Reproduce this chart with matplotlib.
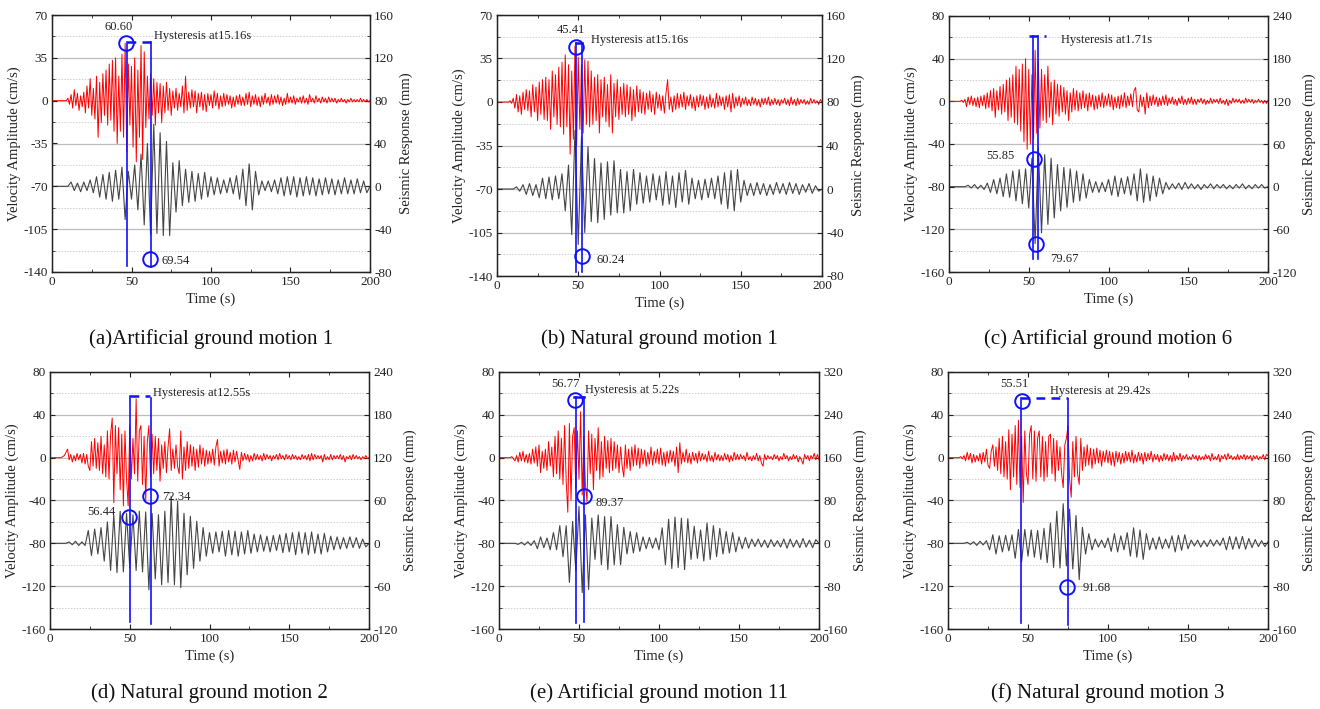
import numpy as np
import matplotlib as mpl
mpl.use('Agg')
import matplotlib.pyplot as plt
from matplotlib.ticker import MultipleLocator, AutoMinorLocator

plt.rcParams['font.family'] = ['Liberation Serif', 'DejaVu Serif']
plt.rcParams['axes.unicode_minus'] = False

# ground velocity sampled every 1 s (cm/s), structural response every 2 s (mm)
dt_vel = 1.0
dt_resp = 2.0

vel_a = [0, 0, 0, 0, 0, 0, 0, 0, 0, 0,
         2, -3, 5, -6, 9, -4, 6, -8, 4, -5,
         7, -10, 12, -6, 18, -12, 10, -15, 20, -30,
         15, -18, 22, -12, 25, -20, 30, -16, 33, -25,
         35, -35, 20, -25, 38, -30, 47, -42, 30, -20,
         28, -38, 35, -50, 25, -30, 45, -48, 40, -22,
         20, -15, 22, -12, 18, -20, 15, -10, 14, -18,
         12, -10, 15, -8, 10, -12, 8, -6, 10, -8,
         6, -5, 12, -10, 20, -8, 7, -6, 9, -5,
         8, -10, 6, -5, 7, -8, 5, -9, 6, -4,
         5, -6, 8, -4, 6, -7, 4, -5, 6, -4,
         5, -3, 4, -6, 3, -5, 4, -3, 5, -4,
         3, -4, 6, -3, 7, -5, 4, -3, 5, -4,
         3, -5, 4, -3, 6, -2, 3, -4, 5, -3,
         4, -2, 5, -3, 3, -4, 2, -3, 6, -2,
         3, -2, 4, -3, 2, -1, 3, -2, 4, -2,
         2, -3, 5, -1, 2, -2, 4, -1, 2, -2,
         3, -1, 2, -2, 3, -1, 2, -1, 2, -2,
         1, -1, 2, -1, 1, -2, 1, -1, 2, -1,
         1, -1, 1, -1, 2, -1, 1, -1, 1, -1,
         0]
resp_a = [0, 0, 0, 0, 0, 0, 4, -4, 3, -5,
          4, -4, 6, -6, 9, -10, 11, -12, 13, -14,
          15, -12, 18, -31, 14, -12, 20, -22, 30, -36,
          40, -45, 58, -44, 50, -46, 42, -46, 22, -24,
          24, -18, 16, -15, 14, -14, 12, -12, 13, -10,
          9, -8, 8, -7, 6, -6, 8, -7, 10, -12,
          16, -18, 21, -22, 14, -8, 5, -4, 5, -5,
          6, -7, 8, -9, 9, -8, 9, -10, 8, -9,
          9, -8, 8, -9, 7, -8, 8, -7, 7, -8,
          6, -7, 8, -7, 6, -7, 7, -6, 5, -6,
          0]

vel_b = [0, 0, 0, 0, 0, 0, 0, 0, 1, -1,
         3, -5, 6, -8, 5, -10, 8, -6, 10, -7,
         9, -12, 14, -8, 12, -15, 16, -10, 18, -14,
         20, -15, 18, -22, 25, -12, 22, -18, 28, -20,
         32, -26, 38, -20, 30, -42, 25, -30, 45, -35,
         36, -22, 30, -25, 34, -18, 33, -20, 25, -18,
         20, -15, 22, -25, 18, -12, 20, -16, 14, -20,
         22, -25, 15, -12, 18, -14, 12, -10, 15, -12,
         14, -10, 12, -15, 10, -12, 13, -8, 10, -9,
         8, -10, 7, -6, 9, -8, 6, -10, 8, -5,
         6, -7, 5, -9, 7, 18, -6, 4, -8, 5,
         -6, 7, -5, 6, -4, 8, -6, 5, -3, 6,
         -5, 4, -7, 5, -4, 6, -3, 5, -6, 4,
         -5, 6, -4, 3, -5, 7, -4, 5, -3, 4,
         -6, 5, -4, 6, -8, 7, -5, 4, -3, 5,
         -4, 3, -2, 4, -3, 2, -3, 4, -2, 3,
         -3, 2, -4, 3, -2, 3, -2, 4, -3, 2,
         -2, 3, -2, 2, -3, 2, -1, 3, -2, 2,
         -3, 4, -2, 2, -3, 3, -2, 2, -1, 2,
         -2, 1, -2, 3, -1, 2, -1, 1, -2, 2,
         0]
resp_b = [0, 0, 0, 0, 0, 0, 2, -2, 4, -5,
          5, -6, 4, -8, 10, -9, 11, -10, 12, -9,
          14, -20, 22, -42, 54, -51, 48, -40, 39, -30,
          28, -31, 24, -28, 25, -24, 26, -22, 18, -22,
          16, -20, 18, -14, 15, -13, 12, -12, 14, -10,
          12, -15, 16, -14, 12, -17, 15, -12, 17, -14,
          10, -9, 8, -10, 9, -8, 10, -9, 12, -14,
          15, -18, 17, -20, 18, -12, 8, -6, 5, -6,
          6, -5, 5, -6, 4, -5, 6, -4, 5, -5,
          6, -4, 5, -5, 4, -3, 5, -4, 3, -2,
          0]

vel_c = [0, 0, 0, 0, 0, 0, 0, 0, 1, -1,
         2, -5, 4, -3, 5, -4, 3, -5, 4, -6,
         5, -4, 6, -7, 8, -6, 10, -9, 12, -15,
         10, -8, 14, -12, 16, -10, 20, -18, 22, -15,
         25, -20, 33, -22, 30, -28, 35, -38, 40, -45,
         30, -40, 25, -35, 48, -30, 38, -25, 30, -18,
         25, -20, 33, -15, 18, -22, 20, -12, 16, -14,
         15, -10, 13, -12, 10, -18, 8, -10, 12, -8,
         10, -9, 8, -7, 10, -6, 7, -9, 8, -5,
         6, -8, 5, -7, 6, -5, 8, -6, 5, -4,
         7, -5, 6, -8, 4, -6, 5, -7, 6, -5,
         8, -6, 5, -4, 7, -5, 10, 13, -8, -10,
         6, -5, 4, -12, 8, -6, 5, -4, 6, -3,
         4, -5, 3, -4, 5, -3, 6, -4, 3, -2,
         4, -3, 2, -4, 3, -2, 5, -3, 2, -3,
         3, -2, 4, -3, 2, -3, 2, -1, 3, -2,
         2, -3, 1, -2, 3, -2, 2, -1, 2, -2,
         3, -2, 1, -3, 2, -4, 1, -2, 3, -1,
         2, -1, 2, -2, 1, -2, 3, -1, 2, -1,
         2, -2, 1, -1, 2, -1, 1, -2, 1, -2,
         1]
resp_c = [0, 0, 0, 0, 0, 0, 2, -2, 3, -3,
          2, -4, 5, -8, 10, -10, 12, -14, 18, -15,
          22, -20, 24, -24, 25, -30, 40, -80, 55, -65,
          45, -53, 40, -44, 31, -34, 27, -29, 25, -22,
          22, -20, 18, -16, 10, -8, 7, -8, 6, -7,
          10, -12, 15, -14, 12, -10, 14, -12, 18, -20,
          25, -22, 18, -20, 15, -14, 12, -10, 6, -4,
          4, -3, 5, -4, 6, -3, 4, -3, 3, -4,
          3, -2, 4, -3, 3, -2, 3, -3, 2, -3,
          3, -2, 4, -3, 2, -3, 3, -2, 3, -2,
          0]

vel_d = [0, 0, 0, 0, 0, 0, 0, 0, 1, 2,
         5, 8, -2, 3, -4, 2, -3, 4, -2, 3,
         -5, 4, -6, 3, -8, -12, 15, -8, 18, -10,
         14, -12, 20, -15, 12, -18, 25, -20, 22, 37,
         -42, 30, -15, 28, -30, 22, -45, 25, -20, -45,
         30, -20, 18, -15, 55, -22, 25, 30, -25, 20,
         -40, 15, 30, -18, 22, -15, 20, -12, 18, -22,
         12, -10, 15, -14, 10, 27, -12, 8, -10, 12,
         -8, -15, 25, -20, 10, -12, 15, -10, 12, -8,
         10, -12, 8, -9, 12, -6, 9, -8, 7, -6,
         6, -5, 8, -7, 10, 17, -8, 6, -5, 7,
         -6, 8, -4, 5, -6, 7, -4, 6, -3, -11,
         5, -3, 4, -2, 3, -4, 2, -3, 4, -2,
         3, -2, 2, -3, 4, -2, 3, -1, 2, -3,
         2, -1, 3, -2, 4, -1, 2, -2, 3, -1,
         2, -2, 3, -1, 2, -2, 1, -2, 3, -1,
         2, -2, 3, -3, 4, -2, 3, -1, 2, -1,
         2, -4, 3, -2, 1, -2, 3, -2, 2, -1,
         2, -1, 3, -2, 2, -4, 1, -1, 2, -2,
         3, -1, 2, -1, 1, -2, 1, -1, 2, -1,
         0]
resp_d = [0, 0, 0, 0, 0, 0, 2, -2, 3, -3,
          2, -3, 18, -17, 20, -15, 22, -25, 30, -38,
          40, -41, 45, -40, 42, -34, 40, -38, 45, -40,
          44, -65, 42, -50, 40, -58, 45, -55, 66, -58,
          59, -62, 42, -44, 38, -35, 31, -25, 22, -18,
          15, -14, 16, -12, 17, -18, 18, -16, 17, -18,
          16, -15, 18, -14, 13, -12, 12, -11, 10, -12,
          11, -10, 12, -13, 14, -12, 15, -16, 16, -14,
          15, -16, 16, -14, 13, -15, 14, -12, 10, -9,
          9, -8, 8, -7, 9, -6, 8, -7, 6, -5,
          0]

vel_e = [0, 0, 0, 0, 0, 0, 0, 0, 1, -1,
         -3, 2, -4, 5, -3, 6, -4, 3, -5, 4,
         -6, 8, -5, 10, -8, 12, -14, 6, -10, 8,
         -12, 15, -8, 10, -18, 20, -15, 25, -20, 18,
         -25, 30, -22, -51, 32, -40, 20, 28, -30, 25,
         -20, 43, -35, 20, -25, -41, 25, -15, 22, -30,
         18, -12, 28, -20, 15, -18, 20, -10, 16, -14,
         18, -12, 15, -10, 12, -14, 10, -8, -18, 12,
         -10, 8, -12, 10, -8, 12, -7, 9, -10, 8,
         -6, 7, -8, 5, -6, 10, -7, 6, -5, 8,
         -6, 9, -7, 5, -8, 6, -5, 7, -4, 6,
         -8, 10, -14, 14, -6, 5, -4, 8, -5, 4,
         -6, 5, -3, 4, -5, 6, -3, 4, -2, 3,
         -4, 6, -3, 2, -4, 5, -2, 3, -3, 2,
         -3, 4, -2, 3, -4, 2, -3, 5, -2, 3,
         -2, 3, -1, 2, -3, 5, -2, 1, -3, 2,
         -2, 4, -3, 2, -5, -8, 3, -2, 2, -1,
         1, -2, 3, -1, 2, -3, 1, -2, 4, -1,
         2, -3, 1, -2, 3, -1, 2, -4, 1, -2,
         -6, 3, -1, 2, -3, 2, -1, 4, -2, 3,
         -2]
resp_e = [0, 0, 0, 0, 0, 0, -2, 2, -3, 3,
          -4, 5, -10, 12, -8, 10, -12, 20, -12, 33,
          -25, 33, -73, 41, -51, 69, -92, 53, -86, 47,
          -30, 53, -40, 50, -49, 50, -40, 35, -40, 30,
          -20, 22, -18, 20, -15, 12, -10, 11, -9, 10,
          -12, 29, -40, 45, -47, 49, -45, 47, -49, 46,
          -30, 32, -28, 25, -33, 38, -30, 33, -25, 28,
          -20, 22, -18, 20, -16, 12, -10, 11, -9, 8,
          -6, 8, -7, 6, -8, 7, -6, 5, -7, 8,
          -9, 8, -7, 6, -8, 9, -7, 6, -8, 7,
          0]

vel_f = [0, 0, 0, 0, 0, 0, 0, 0, 1, -1,
         2, -3, 5, -2, 4, -5, 3, -4, 2, -3,
         4, -6, 5, -4, 8, -7, -10, 6, 12, -8,
         10, -12, 18, -15, 20, -18, 15, -20, 26, -30,
         22, -18, 30, -25, 35, -28, 20, -42, 25, -15,
         -25, 22, 30, -20, 25, -22, 18, 25, -18, 20,
         -22, 15, -18, 20, 22, -15, 18, -22, 16, -12,
         10, -15, -28, 12, 18, 30, -20, -37, 15, -18,
         20, -15, -25, 18, -12, 10, -8, 12, -7, 9,
         -10, 8, -6, 9, -5, 7, -8, 6, -4, 7,
         -5, 6, -7, 5, -8, 6, -4, 5, -6, 4,
         -5, 6, -3, 5, -4, 7, -5, 3, -4, 5,
         -3, 4, -6, 5, -3, 4, -2, 6, -4, 3,
         -2, 3, -4, 2, -3, 4, -2, 3, -3, 2,
         -4, 5, -3, 2, -2, 4, -3, 2, -1, 3,
         -2, 1, -2, 3, -1, 2, -3, 2, -2, 1,
         -2, 3, -1, 2, -3, 4, -2, 1, -2, 3,
         -4, 2, -1, 3, -2, 4, -1, 2, -2, 1,
         -2, 3, -2, 2, -1, 3, -2, 2, -1, 2,
         -3, 2, -1, 2, -2, 1, -1, 3, -2, 3,
         2]
resp_f = [0, 0, 0, 0, 0, 0, 2, -2, 3, -4,
          4, -3, 5, -12, 16, -20, 14, -16, 15, -14,
          16, -28, 26, -35, 26, -24, 25, -26, 24, -30,
          28, -36, 38, -45, 60, -46, 74, -42, 64, -48,
          52, -68, 30, -20, 18, -12, 8, -7, 6, -8,
          10, -15, 18, -16, 14, -12, 20, -24, 29, -26,
          25, -30, 18, -12, 10, -11, 12, -10, 8, -9,
          14, -16, 15, -13, 16, -10, 6, -5, 6, -7,
          5, -6, 7, -5, 6, -4, 10, -12, 13, -11,
          12, -10, 13, -11, 9, -8, 7, -6, 5, -6,
          3]

velocities = [vel_a, vel_b, vel_c, vel_d, vel_e, vel_f]
responses = [resp_a, resp_b, resp_c, resp_d, resp_e, resp_f]

captions = ["(a)Artificial ground motion 1", "(b) Natural ground motion 1",
            "(c) Artificial ground motion 6", "(d) Natural ground motion 2",
            "(e) Artificial ground motion 11", "(f) Natural ground motion 3"]
vel_peaks = ["60.60", "45.41", "55.85", "56.44", "56.77", "55.51"]
resp_peaks = ["69.54", "60.24", "79.67", "72.34", "89.37", "91.68"]
lag_labels = ["Hysteresis at15.16s", "Hysteresis at15.16s", "Hysteresis at1.71s",
              "Hysteresis at12.55s", "Hysteresis at 5.22s", "Hysteresis at 29.42s"]

# (min, max, step) of the left and right scales
vel_scales = [(-140, 70, 35), (-140, 70, 35), (-160, 80, 40),
              (-160, 80, 40), (-160, 80, 40), (-160, 80, 40)]
resp_scales = [(-80, 160, 40), (-80, 160, 40), (-120, 240, 60),
               (-120, 240, 60), (-160, 320, 80), (-160, 320, 80)]

# axes boxes in pixels: left, right, top, bottom
boxes = [(52, 370, 15, 272), (497, 822, 15, 276), (949, 1268, 16, 272),
         (50, 369, 372, 629), (499, 819, 372, 629), (948, 1268, 372, 629)]

# peak markers, drawn in velocity units:
# verticals (t, top, bottom), link (t0, t1, y, dashed), circles, label anchors
marks = [
    dict(vlines=[(46.9, 48, -135), (62.2, 48, -136)], link=(46.9, 62.2, 48, True),
         circles=[(46.5, 46.8), (61.8, -129.6)],
         vel_txt=(41.9, 60.5, 'center'), resp_txt=(68.7, -131), lag_txt=(63.9, 53)),
    dict(vlines=[(48.9, 47.7, -137), (52.0, 47.7, -137)], link=(48.9, 52.0, 47.7, False),
         circles=[(48.5, 44.3), (52.4, -123.6)],
         vel_txt=(45.4, 58, 'center'), resp_txt=(61.2, -127), lag_txt=(57.7, 50)),
    dict(vlines=[(52.4, 61, -148), (55.9, 61, -148)], link=(50.0, 61.0, 61, True),
         circles=[(53.2, -54.4), (54.7, -133.4)],
         vel_txt=(41.3, -51, 'right'), resp_txt=(63.7, -147.8), lag_txt=(70.2, 57.2)),
    dict(vlines=[(50.1, 58, -153), (63.3, 55.5, -155)], link=(50.1, 63.0, 58, True),
         circles=[(49.7, -55), (63.0, -35.6)],
         vel_txt=(41.1, -51.2, 'right'), resp_txt=(70.1, -37), lag_txt=(64.3, 60.7)),
    dict(vlines=[(47.9, 56.7, -154.3), (52.9, 56.7, -153.5)], link=(47.0, 52.9, 56.7, False),
         circles=[(47.7, 53.5), (52.9, -35.8)],
         vel_txt=(41.5, 69, 'center'), resp_txt=(60.6, -42.3), lag_txt=(54.0, 63.5)),
    dict(vlines=[(45.4, 56, -154.7), (75.0, 55, -156)], link=(45.4, 75.0, 55.5, True),
         circles=[(46.5, 53.2), (74.6, -121)],
         vel_txt=(41.7, 69, 'center'), resp_txt=(84.0, -121.5), lag_txt=(64.0, 62.2)),
]

W, H = 1320, 709
fig = plt.figure(figsize=(W / 100, H / 100), dpi=100)
blue = '#1010ff'
txt_color = '#222222'

for i in range(6):
    l, r, top, bot = boxes[i]
    ax = fig.add_axes([l / W, 1 - bot / H, (r - l) / W, (bot - top) / H])
    ax2 = ax.twinx()
    ax.set_zorder(ax2.get_zorder() + 1)
    ax.patch.set_visible(False)

    vmin, vmax, vstep = vel_scales[i]
    rmin, rmax, rstep = resp_scales[i]

    resp = np.array(responses[i], dtype=float)
    ax2.plot(np.arange(len(resp)) * dt_resp, resp, color='#454545', lw=0.8)
    vel = np.array(velocities[i], dtype=float)
    ax.plot(np.arange(len(vel)) * dt_vel, vel, color='#ff0000', lw=0.7)

    ax.set_xlim(0, 200)
    ax.set_ylim(vmin, vmax)
    ax2.set_ylim(rmin, rmax)
    ax.xaxis.set_major_locator(MultipleLocator(50))
    ax.xaxis.set_minor_locator(AutoMinorLocator(2))
    ax.yaxis.set_major_locator(MultipleLocator(vstep))
    ax.yaxis.set_minor_locator(AutoMinorLocator(2))
    ax2.yaxis.set_major_locator(MultipleLocator(rstep))
    ax2.yaxis.set_minor_locator(AutoMinorLocator(2))

    # grid lives on the lower axes so the traces sit on top of it
    ax2.grid(True, which='major', axis='both', color='#bdbdbd', lw=0.9)
    ax2.grid(True, which='minor', axis='both', color='#d0d0d0', lw=0.7, ls=(0, (1.5, 1.5)))
    ax2.xaxis.set_minor_locator(AutoMinorLocator(2))
    ax2.set_axisbelow(True)

    ax.tick_params(which='both', direction='in', top=True, labelsize=9.5,
                   colors=txt_color, pad=3)
    ax.tick_params(which='major', length=3.5)
    ax.tick_params(which='minor', length=2)
    ax2.tick_params(which='both', direction='in', labelsize=9.5, colors=txt_color, pad=3)
    ax2.tick_params(which='major', length=3.5)
    ax2.tick_params(which='minor', length=2)
    for sp in ax.spines.values():
        sp.set_linewidth(1.0)
        sp.set_color('#222222')

    ax.set_xlabel('Time (s)', fontsize=10.5, color=txt_color, labelpad=3)
    ax.set_ylabel('Velocity Amplitude (cm/s)', fontsize=10.5, color=txt_color, labelpad=2)
    ax2.set_ylabel('Seismic Response (mm)', fontsize=10.5, color=txt_color, labelpad=4)

    m = marks[i]
    for t, y0, y1 in m['vlines']:
        ax.plot([t, t], [y0, y1], color=blue, lw=1.2, zorder=5)
    x0, x1, yl, dashed = m['link']
    ax.plot([x0, x1], [yl, yl], color=blue, lw=1.8, zorder=5,
            ls=(0, (3.5, 2.5)) if dashed else '-')
    for cx, cy in m['circles']:
        ax.plot(cx, cy, 'o', mfc='none', mec=blue, ms=10.5, mew=1.4, zorder=6)
    tx, ty, ha = m['vel_txt']
    ax.text(tx, ty, vel_peaks[i], fontsize=9, ha=ha, va='center', color=txt_color, zorder=7)
    tx, ty = m['resp_txt']
    ax.text(tx, ty, resp_peaks[i], fontsize=9, ha='left', va='center', color=txt_color, zorder=7)
    tx, ty = m['lag_txt']
    ax.text(tx, ty, lag_labels[i], fontsize=9, ha='left', va='center', color=txt_color, zorder=7)

    cap_y = 339 if i < 3 else 693
    fig.text((l + r) / 2 / W, 1 - cap_y / H, captions[i], fontsize=15,
             ha='center', va='center', color='#111111')

fig.savefig('out.png', dpi=100)
